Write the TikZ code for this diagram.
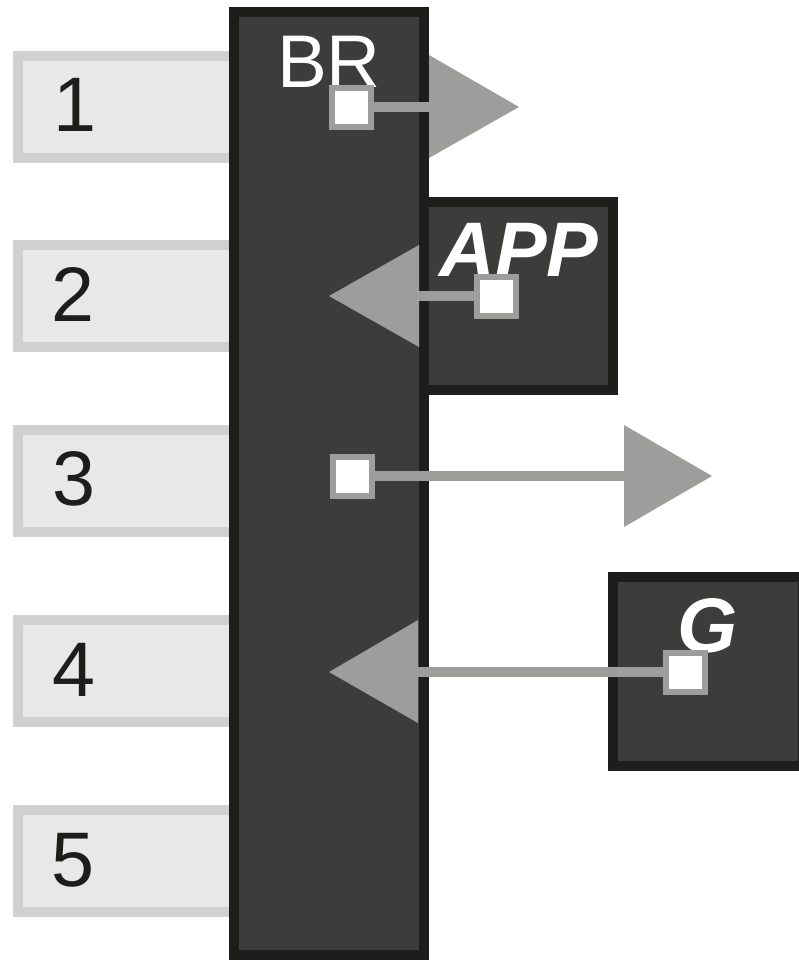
\documentclass[tikz,border=0pt]{standalone}
\usepackage{fontspec}
\setmainfont{Liberation Sans}
\definecolor{darkfill}{HTML}{3C3C3B}
\definecolor{darkborder}{HTML}{1D1D1B}
\definecolor{lightfill}{HTML}{E8E8E8}
\definecolor{lightborder}{HTML}{D0D0D0}
\definecolor{portgrey}{HTML}{9D9D9C}
\begin{document}
\begin{tikzpicture}[x=0.75pt,y=-0.75pt,
  lbox/.style={draw=lightborder, fill=lightfill, line width=7.5pt, rectangle, inner sep=0pt,
               minimum width=166.5pt, minimum height=76.5pt},
  dbox/.style={draw=darkborder, fill=darkfill, line width=7.5pt, rectangle, inner sep=0pt},
  numtxt/.style={inner sep=0pt, text=darkborder, font=\fontsize{58pt}{60pt}\selectfont},
  wtxt/.style={inner sep=0pt, text=white, font=\fontsize{56pt}{60pt}\selectfont},
  witxt/.style={inner sep=0pt, text=white, font=\fontsize{58pt}{60pt}\selectfont\bfseries\itshape},
  conn/.style={draw=portgrey, line width=7.5pt},
  headfill/.style={fill=portgrey},
  port/.style={draw=portgrey, fill=white, line width=4.5pt, rectangle, inner sep=0pt,
               minimum size=29.25pt}
]
\useasboundingbox (0,0) rectangle (799,960);
\clip (0,0) rectangle (799,960);

% left light boxes
\node[lbox] (n1) at (129,107) {};
\node[lbox] (n2) at (129,296) {};
\node[lbox] (n3) at (129,481) {};
\node[lbox] (n4) at (129,671) {};
\node[lbox] (n5) at (129,861) {};
\node[numtxt] (l1) at (75,105) {1};
\node[numtxt] (l2) at (73,294.5) {2};
\node[numtxt] (l3) at (74,478.5) {3};
\node[numtxt] (l4) at (74,670) {4};
\node[numtxt] (l5) at (73,860) {5};

% dark boxes
\node[dbox, minimum width=142.5pt, minimum height=707.25pt] (br) at (329,483.5) {};
\node[dbox, minimum width=141.75pt, minimum height=141pt] (app) at (518.5,296) {};
\node[dbox, minimum width=142.5pt, minimum height=141.75pt] (g) at (708,671.5) {};

% titles
\node[wtxt] (brt) at (329,61.5) {BR};
\node[witxt] (appt) at (519,250) {APP};
\node[witxt] (gt) at (708,625.5) {G};

% port centres, arrow bases and tips
\coordinate (p1) at (351,107);
\coordinate (b1) at (429,107);
\coordinate (t1) at (519,107);
\coordinate (p2) at (496,296);
\coordinate (b2) at (419,296);
\coordinate (t2) at (329,296);
\coordinate (p3) at (352,476);
\coordinate (b3) at (624,476);
\coordinate (t3) at (712,476);
\coordinate (p4) at (685,672);
\coordinate (b4) at (418,672);
\coordinate (t4) at (329,672);

% connectors
\draw[conn] (p1) -- (b1);
\fill[headfill] (429,55) -- (t1) -- (429,158) -- cycle;
\draw[conn] (p2) -- (b2);
\fill[headfill] (419,245) -- (t2) -- (419,347) -- cycle;
\draw[conn] (p3) -- (b3);
\fill[headfill] (624,425) -- (t3) -- (624,527) -- cycle;
\draw[conn] (p4) -- (b4);
\fill[headfill] (418,620) -- (t4) -- (418,723) -- cycle;

% ports
\node[port] (s1) at (p1) {};
\node[port] (s2) at (p2) {};
\node[port] (s3) at (p3) {};
\node[port] (s4) at (p4) {};
\end{tikzpicture}
\end{document}
